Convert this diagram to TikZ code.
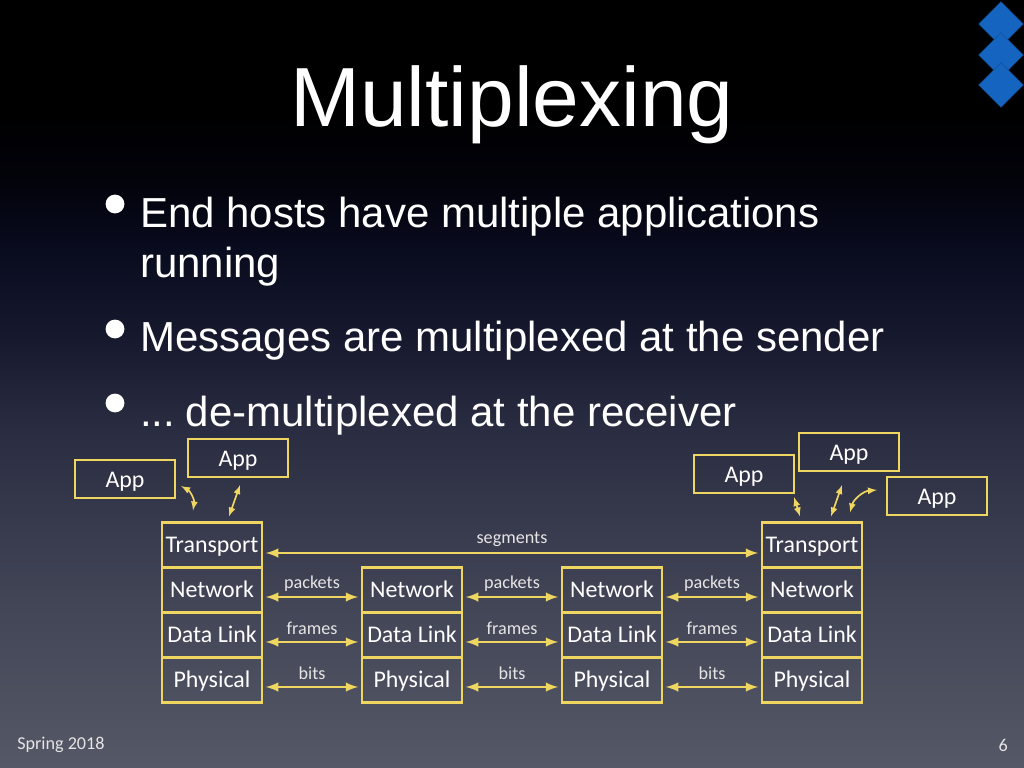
\documentclass[tikz,border=0pt]{standalone}
\usepackage{fontspec}
\setmainfont{Liberation Sans}
\newfontfamily\boxfont{Carlito}
\usetikzlibrary{%
  calc,%
  shapes.geometric%
}
\definecolor{linkyellow}{RGB}{238,214,96}
\definecolor{marker}{RGB}{20,100,192}
\pgfdeclareverticalshading{slidebg}{100bp}{%
  rgb(0bp)=(0.333,0.345,0.4);%
  rgb(25bp)=(0.333,0.345,0.4);%
  rgb(36bp)=(0.259,0.27,0.337);%
  rgb(47bp)=(0.165,0.173,0.255);%
  rgb(52.9bp)=(0.09,0.1,0.18);%
  rgb(58.7bp)=(0.035,0.045,0.12);%
  rgb(63.3bp)=(0.008,0.01,0.04);%
  rgb(67.8bp)=(0,0,0);%
  rgb(100bp)=(0,0,0)}
\tikzset{>=latex,
  layer/.style = {draw=linkyellow, line width=1.5pt, text=white, inner sep=0pt,
    minimum width=2.5cm, minimum height=1.125cm, text height=0.44cm, text depth=0.05cm,
    font=\boxfont\fontsize{17}{19}\selectfont},
  appbox/.style = {layer, minimum height=0.95cm, text depth=0cm},
  link/.style = {<->, linkyellow, line width=2pt, shorten >=2pt, shorten <=2pt},
  applink/.style = {<->, linkyellow, line width=1.2pt},
  linklabel/.style = {text=white!90!black, font=\boxfont\fontsize{12.9}{15}\selectfont},
  bullet/.style = {circle, fill=white, inner sep=0pt, minimum size=0.47cm},
  bodytext/.style = {anchor=base west, text=white, inner sep=0pt, font=\fontsize{29.85}{36}\selectfont},
  marker/.style = {diamond, fill=marker, draw=marker!75!black, line width=0.3pt, inner sep=0pt, minimum size=1.12cm}}
\begin{document}
\begin{tikzpicture}[x=0.025cm,y=-0.025cm]
    \useasboundingbox (0,0) rectangle (1024,768);
    \shade[shading=slidebg] (0,0) rectangle (1024,768);
    % corner markers
    \node[marker] (marka) at (1001,24) {};
    \node[marker] (markb) at (1001,55) {};
    \node[marker] (markc) at (1001,85) {};
    % title and bullets
    \node[text=white,inner sep=0pt,font=\fontsize{59.7}{70}\selectfont] (title) at (512,105) {Multiplexing};
    \node[bullet] (bula) at (115,204) {};
    \node[bullet] (bulb) at (115,329) {};
    \node[bullet] (bulc) at (115,403) {};
    \node[bodytext] (linea) at (140,227) {End hosts have multiple applications};
    \node[bodytext] (lineb) at (140,277) {running};
    \node[bodytext] (linec) at (140,351) {Messages are multiplexed at the sender};
    \node[bodytext] (lined) at (140,426) {... \kern-0.125cm de-multiplexed at the receiver};
    % protocol stacks
    \node[layer] (traa) at (212,545) {Transport};
    \node[layer] (trad) at (812,545) {Transport};
    \foreach \col/\x in {a/212,b/412,c/612,d/812} {
      \node[layer] (net\col) at (\x,590) {Network};
      \node[layer] (dat\col) at (\x,635) {Data Link};
      \node[layer] (phy\col) at (\x,680) {Physical};
    }
    % links between stacks
    \draw[link] ([yshift=-0.2cm]traa.east) -- ([yshift=-0.2cm]trad.west)
      node[linklabel,midway,yshift=0.34cm] (lblseg) {segments};
    \foreach \l/\r in {a/b,b/c,c/d} {
      \draw[link] ([yshift=-0.175cm]net\l.east) -- ([yshift=-0.175cm]net\r.west)
        node[linklabel,midway,yshift=0.34cm] (lblnet\l) {packets};
      \draw[link] ([yshift=-0.175cm]dat\l.east) -- ([yshift=-0.175cm]dat\r.west)
        node[linklabel,midway,yshift=0.34cm] (lbldat\l) {frames};
      \draw[link] ([yshift=-0.175cm]phy\l.east) -- ([yshift=-0.175cm]phy\r.west)
        node[linklabel,midway,yshift=0.34cm] (lblphy\l) {bits};
    }
    % applications
    \node[appbox] (appa) at (125,479) {App};
    \node[appbox] (appb) at (238,458) {App};
    \node[appbox] (appc) at (744,474) {App};
    \node[appbox] (appd) at (849,452) {App};
    \node[appbox] (appe) at (937,496) {App};
    \draw[applink] ([shift={(5,7)}]appa.east) to[bend left=35] ([shift={(-19,-11)}]traa.north);
    \draw[applink] ([shift={(2,7)}]appb.south) -- ([shift={(17,-5)}]traa.north);
    \draw[applink] ([shift={(-1,3)}]appc.south east) -- ([shift={(-12,-5)}]trad.north);
    \draw[applink] ([shift={(-7,13)}]appd.south) -- ([shift={(19,-5)}]trad.north);
    \draw[applink] ([shift={(-9,-6)}]appe.west) to[bend right=35] ([shift={(38,-9)}]trad.north);
    % footer
    \node[linklabel,anchor=west,inner sep=0pt] (foota) at (17,745) {Spring 2018};
    \node[linklabel,anchor=east,inner sep=0pt] (footb) at (1008,745) {6};
  \end{tikzpicture}
\end{document}
